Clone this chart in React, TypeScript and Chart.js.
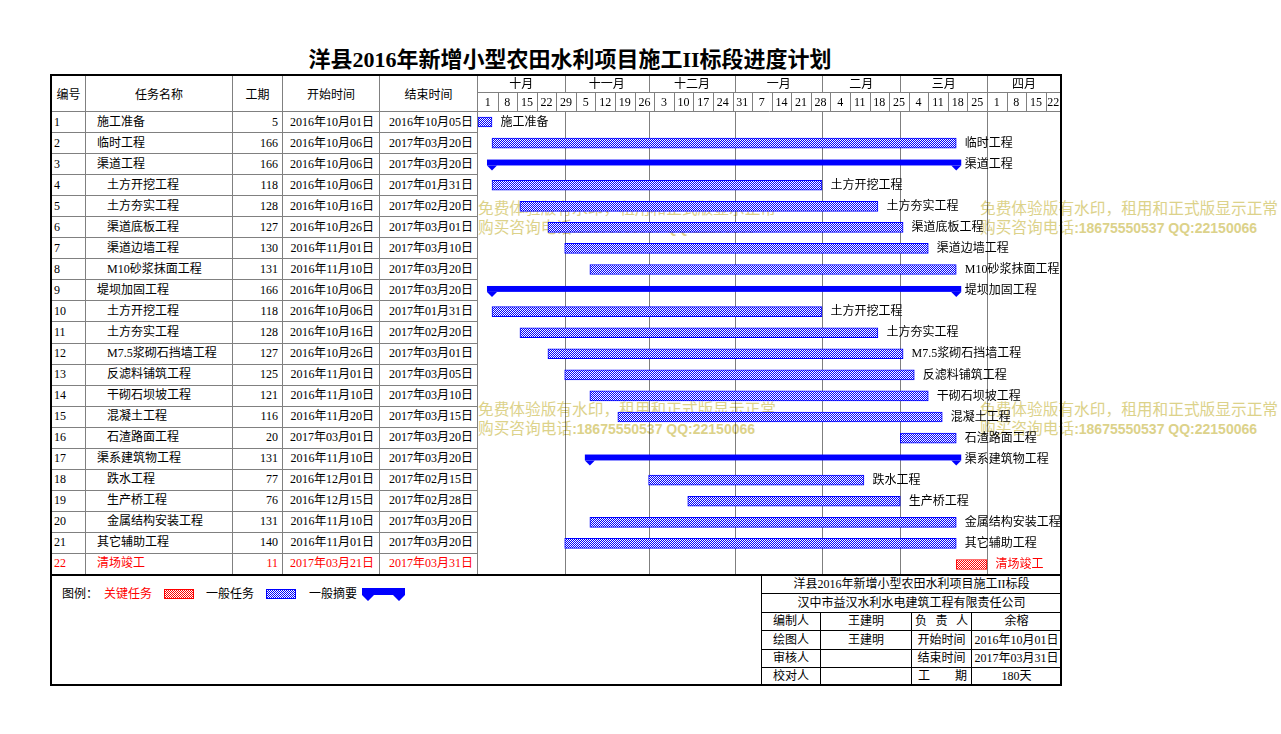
import React, { useEffect, useRef } from 'react';
import { Chart, registerables } from 'chart.js';

Chart.register(...registerables);

// ---------------- data ----------------
const taskIds = ['1','2','3','4','5','6','7','8','9','10','11','12','13','14','15','16','17','18','19','20','21','22'];
const taskNames = ['施工准备','临时工程','渠道工程','土方开挖工程','土方夯实工程','渠道底板工程','渠道边墙工程','M10砂浆抹面工程','堤坝加固工程','土方开挖工程','土方夯实工程','M7.5浆砌石挡墙工程','反滤料铺筑工程','干砌石坝坡工程','混凝土工程','石渣路面工程','渠系建筑物工程','跌水工程','生产桥工程','金属结构安装工程','其它辅助工程','清场竣工'];
const taskLevels = [1,1,1,2,2,2,2,2,1,2,2,2,2,2,2,2,1,2,2,2,1,1];
const taskTypes = ['task','task','summary','task','task','task','task','task','summary','task','task','task','task','task','task','task','summary','task','task','task','task','critical'];
const durations = [5,166,166,118,128,127,130,131,166,118,128,127,125,121,116,20,131,77,76,131,140,11];
const startDates = ['2016-10-01','2016-10-06','2016-10-06','2016-10-06','2016-10-16','2016-10-26','2016-11-01','2016-11-10','2016-10-06','2016-10-06','2016-10-16','2016-10-26','2016-11-01','2016-11-10','2016-11-20','2017-03-01','2016-11-10','2016-12-01','2016-12-15','2016-11-10','2016-11-01','2017-03-21'];
const endDates = ['2016-10-05','2017-03-20','2017-03-20','2017-01-31','2017-02-20','2017-03-01','2017-03-10','2017-03-20','2017-03-20','2017-01-31','2017-02-20','2017-03-01','2017-03-05','2017-03-10','2017-03-15','2017-03-20','2017-03-20','2017-02-15','2017-02-28','2017-03-20','2017-03-20','2017-03-31'];

const monthLabels = ['十月','十一月','十二月','一月','二月','三月','四月'];
const monthDays = [31,30,31,31,28,31,30];
const weekLabels = ['1','8','15','22','29','5','12','19','26','3','10','17','24','31','7','14','21','28','4','11','18','25','4','11','18','25','1','8','15','22'];

const titleText = '洋县2016年新增小型农田水利项目施工II标段进度计划';
const headerLabels = ['编号','任务名称','工期','开始时间','结束时间'];
const infoTitle = '洋县2016年新增小型农田水利项目施工II标段';
const infoCompany = '汉中市益汉水利水电建筑工程有限责任公司';
const infoRows = [
  ['编制人','王建明','负责人','余榕'],
  ['绘图人','王建明','开始时间','2016年10月01日'],
  ['审核人','','结束时间','2017年03月31日'],
  ['校对人','','工期','180天'],
];
const legendLabels = ['图例：','关键任务','一般任务','一般摘要'];
const watermark1 = '免费体验版有水印，租用和正式版显示正常';
const watermark2a = '购买咨询电话';
const watermark2b = ':18675550537 QQ:22150066';

// ---------------- helpers ----------------
const ORIGIN = Date.UTC(2016, 9, 1);
function dayIndex(s: string): number {
  const [y, m, d] = s.split('-').map(Number);
  return Math.round((Date.UTC(y, m - 1, d) - ORIGIN) / 86400000);
}
function fmtDate(s: string): string {
  const [y, m, d] = s.split('-');
  return `${y}年${m}月${d}日`;
}

const FONT = '"Liberation Serif", "Noto Sans CJK SC", serif';
const CANVAS_FONT = '12px "Liberation Serif", "Noto Sans CJK SC", serif';
const GRAY = '#808080';
const BLUE = '#0000ff';
const RED = '#ff0000';

const G_LEFT = 478;
const G_TOP = 75;
const G_W = 583;
const G_H = 500;
const HEAD_H = 36.5;
const PX_PER_DAY = 509 / 182;
const X_MAX = G_W / PX_PER_DAY;

const ROW_TOP = 111.5;
const ROW_H = 463 / 22;
const colX = [50, 85, 232, 282, 379, 477];

function makePattern(color: string): CanvasPattern | string {
  const c = document.createElement('canvas');
  c.width = 2; c.height = 2;
  const g = c.getContext('2d');
  if (!g) return color;
  g.fillStyle = '#ffffff';
  g.fillRect(0, 0, 2, 2);
  g.fillStyle = color;
  g.fillRect(0, 0, 1, 1);
  g.fillRect(1, 1, 1, 1);
  const p = g.createPattern(c, 'repeat');
  return p || color;
}

const ganttPlugin = {
  id: 'ganttDecor',
  beforeDatasetsDraw(chart: any) {
    const { ctx, chartArea, scales } = chart;
    const xs = scales.x;
    const W = chart.width;
    ctx.save();
    ctx.strokeStyle = GRAY;
    ctx.lineWidth = 1;
    ctx.beginPath();
    ctx.moveTo(0, 17.5); ctx.lineTo(W, 17.5);
    ctx.moveTo(0, chartArea.top); ctx.lineTo(W, chartArea.top);
    ctx.stroke();

    ctx.font = CANVAS_FONT;
    ctx.fillStyle = '#000';
    ctx.textAlign = 'center';
    ctx.textBaseline = 'middle';

    // month row
    let acc = 0;
    const boundaries: number[] = [];
    monthLabels.forEach((m, i) => {
      const s = acc;
      const e = acc + monthDays[i];
      acc = e;
      const p0 = xs.getPixelForValue(s);
      const p1 = Math.min(xs.getPixelForValue(e), W);
      if (i > 0) {
        boundaries.push(p0);
        ctx.beginPath();
        ctx.moveTo(Math.round(p0) + 0.5, 1);
        ctx.lineTo(Math.round(p0) + 0.5, 17.5);
        ctx.stroke();
      }
      ctx.fillText(m, (p0 + p1) / 2, 9.5);
    });

    // week row
    weekLabels.forEach((l, i) => {
      const s = i * 7;
      const p0 = xs.getPixelForValue(s);
      const p1 = Math.min(xs.getPixelForValue(s + 7), W);
      if (p0 >= W) return;
      if (i > 0) {
        ctx.beginPath();
        ctx.moveTo(Math.round(p0) + 0.5, 17.5);
        ctx.lineTo(Math.round(p0) + 0.5, chartArea.top);
        ctx.stroke();
      }
      ctx.fillText(l, (p0 + p1) / 2, 27.5);
    });

    // dotted month lines in body
    ctx.strokeStyle = '#000';
    ctx.setLineDash([1, 1]);
    boundaries.forEach((p) => {
      ctx.beginPath();
      ctx.moveTo(Math.round(p) + 0.5, chartArea.top + 1);
      ctx.lineTo(Math.round(p) + 0.5, chartArea.bottom);
      ctx.stroke();
    });
    ctx.restore();
  },
  afterDatasetsDraw(chart: any) {
    const { ctx } = chart;
    ctx.save();
    // summary bars
    const sumDs = chart.data.datasets[1];
    const sumMeta = chart.getDatasetMeta(1);
    ctx.fillStyle = BLUE;
    sumMeta.data.forEach((el: any, i: number) => {
      if (sumDs.data[i] == null) return;
      const { x, base, y } = el.getProps(['x', 'base', 'y'], true);
      const l = Math.min(x, base);
      const r = Math.max(x, base);
      const top = y - 4.6;
      const bot = y + 1.3;
      ctx.fillRect(l - 5, top, r - l + 10, bot - top);
      [l, r].forEach((c) => {
        ctx.beginPath();
        ctx.moveTo(c - 5, bot);
        ctx.lineTo(c + 5, bot);
        ctx.lineTo(c, bot + 5);
        ctx.closePath();
        ctx.fill();
      });
    });
    // labels
    ctx.font = CANVAS_FONT;
    ctx.textAlign = 'left';
    ctx.textBaseline = 'middle';
    chart.data.datasets.forEach((ds: any, di: number) => {
      const meta = chart.getDatasetMeta(di);
      meta.data.forEach((el: any, i: number) => {
        if (ds.data[i] == null) return;
        const { x, base, y } = el.getProps(['x', 'base', 'y'], true);
        const r = Math.max(x, base);
        ctx.fillStyle = taskTypes[i] === 'critical' ? RED : '#000';
        ctx.fillText(taskNames[i], r + 8.5, y + 0.5);
      });
    });
    ctx.restore();
  },
};

const abs = (l: number, t: number, w: number, h: number, extra: any = {}) => ({
  position: 'absolute' as const, left: l, top: t, width: w, height: h, ...extra,
});

export default function App() {
  const ref = useRef<HTMLCanvasElement>(null);

  useEffect(() => {
    if (!ref.current) return;
    const ranges = taskIds.map((_, i) => [dayIndex(startDates[i]), dayIndex(endDates[i]) + 1]);
    const taskData = ranges.map((r, i) => (taskTypes[i] === 'task' ? r : null));
    const sumData = ranges.map((r, i) => (taskTypes[i] === 'summary' ? r : null));
    const critData = ranges.map((r, i) => (taskTypes[i] === 'critical' ? r : null));
    const chart = new Chart(ref.current, {
      type: 'bar',
      data: {
        labels: taskIds,
        datasets: [
          { label: '一般任务', data: taskData as any, backgroundColor: makePattern(BLUE) as any, borderColor: BLUE, borderWidth: 1, borderSkipped: false, barThickness: 10, grouped: false } as any,
          { label: '一般摘要', data: sumData as any, backgroundColor: 'rgba(0,0,0,0)', borderWidth: 0, barThickness: 6, grouped: false } as any,
          { label: '关键任务', data: critData as any, backgroundColor: makePattern(RED) as any, borderColor: RED, borderWidth: 1, borderSkipped: false, barThickness: 10, grouped: false } as any,
        ],
      },
      options: {
        indexAxis: 'y',
        animation: false,
        responsive: true,
        maintainAspectRatio: false,
        events: [],
        layout: { padding: { top: HEAD_H, left: 0, right: 0, bottom: 0 } },
        scales: {
          x: { type: 'linear', min: 0, max: X_MAX, display: false },
          y: { type: 'category', display: false, offset: true },
        },
        plugins: { legend: { display: false }, tooltip: { enabled: false }, title: { display: false } },
      } as any,
      plugins: [ganttPlugin],
    });
    return () => chart.destroy();
  }, []);

  const cells: React.ReactNode[] = [];
  // header labels
  headerLabels.forEach((h, i) => {
    const l = i === 0 ? 52 : colX[i] + 1;
    cells.push(
      <div key={'h' + i} style={abs(l, 77, colX[i + 1] - l, 36, { lineHeight: '36px', textAlign: 'center' })}>{h}</div>
    );
  });
  // rows
  taskIds.forEach((id, i) => {
    const top = ROW_TOP + i * ROW_H;
    const color = taskTypes[i] === 'critical' ? RED : '#000';
    const base = { lineHeight: `${ROW_H}px`, color, whiteSpace: 'nowrap' as const };
    cells.push(<div key={'id' + i} style={abs(54, top, 30, ROW_H, base)}>{id}</div>);
    cells.push(<div key={'nm' + i} style={abs(colX[1] + (taskLevels[i] === 1 ? 12 : 22), top, 140, ROW_H, base)}>{taskNames[i]}</div>);
    cells.push(<div key={'du' + i} style={abs(colX[2], top, colX[3] - colX[2] - 4, ROW_H, { ...base, textAlign: 'right' })}>{durations[i]}</div>);
    cells.push(<div key={'st' + i} style={abs(colX[3], top, colX[4] - colX[3] - 5, ROW_H, { ...base, textAlign: 'right' })}>{fmtDate(startDates[i])}</div>);
    cells.push(<div key={'en' + i} style={abs(colX[4], top, colX[5] - colX[4] - 4, ROW_H, { ...base, textAlign: 'right' })}>{fmtDate(endDates[i])}</div>);
  });

  const lines: React.ReactNode[] = [];
  colX.slice(1).forEach((x, i) => {
    lines.push(<div key={'vc' + i} style={abs(x, 76, 1, 498, { background: GRAY })} />);
  });
  for (let k = 0; k < 22; k++) {
    const y = Math.floor(ROW_TOP + k * ROW_H);
    lines.push(<div key={'hr' + k} style={abs(51, y, (k === 0 ? 478 : 477) - 51, 1, { background: GRAY })} />);
  }

  // info table
  const infoTops = [575, 593, 612, 630, 649, 667, 685];
  const infoCols = [761, 820, 911, 971, 1061];
  const info: React.ReactNode[] = [];
  info.push(<div key="il" style={abs(761, 575, 1, 110, { background: '#000' })} />);
  infoTops.slice(1, 6).forEach((y, i) => {
    info.push(<div key={'ih' + i} style={abs(761, y, 300, 1, { background: '#000' })} />);
  });
  infoCols.slice(1, 4).forEach((x, i) => {
    info.push(<div key={'iv' + i} style={abs(x, 612, 1, 73, { background: '#000' })} />);
  });
  info.push(<div key="it1" style={abs(762, 575, 299, 18, { lineHeight: '19px', textAlign: 'center', whiteSpace: 'nowrap' })}>{infoTitle}</div>);
  info.push(<div key="it2" style={abs(762, 594, 299, 18, { lineHeight: '18px', textAlign: 'center', whiteSpace: 'nowrap' })}>{infoCompany}</div>);
  infoRows.forEach((row, r) => {
    const top = infoTops[r + 2] + 1;
    const h = infoTops[r + 3] - infoTops[r + 2] - 1;
    row.forEach((t, c) => {
      const l = infoCols[c] + 1;
      const w = infoCols[c + 1] - infoCols[c] - 1;
      const spread = c === 2 && (t === '负责人' || t === '工期');
      if (spread) {
        info.push(
          <div key={'ic' + r + c} style={abs(l, top, w, h, { lineHeight: `${h}px`, display: 'flex', justifyContent: 'space-between', padding: t === '工期' ? '0 4px 0 6px' : '0 3px 0 3px', boxSizing: 'border-box' })}>
            {t.split('').map((ch, k) => <span key={k}>{ch}</span>)}
          </div>
        );
      } else {
        info.push(<div key={'ic' + r + c} style={abs(l, top, w, h, { lineHeight: `${h}px`, textAlign: 'center', whiteSpace: 'nowrap' })}>{t}</div>);
      }
    });
  });

  const checker = (c: string) => `repeating-conic-gradient(${c} 0 25%, #ffffff 0 50%) 0 0 / 2px 2px`;

  const wmPos = [[478, 197.5], [980, 197.5], [478, 398.5], [980, 398.5]];
  const wmStyle = { color: '#dcd28a', fontSize: 15.7, fontFamily: '"Noto Sans CJK SC", sans-serif', whiteSpace: 'nowrap' as const, lineHeight: '19px' };

  return (
    <div style={{ position: 'absolute', left: 0, top: 0, width: 1281, height: 734, background: '#fff', overflow: 'hidden', fontFamily: FONT, fontSize: 12, color: '#000' }}>
      <div style={abs(0, 47, 1140, 26, { lineHeight: '26px', textAlign: 'center', fontSize: 22, fontWeight: 'bold', whiteSpace: 'nowrap' })}>{titleText}</div>
      {lines}
      {cells}
      {wmPos.map(([x, y], i) => (
        <div key={'wm' + i} style={abs(x, y, 320, 38, wmStyle)}>
          <div>{watermark1}</div>
          <div>{watermark2a}<span style={{ fontFamily: '"Liberation Sans", sans-serif', fontWeight: 'bold', fontSize: 14 }}>{watermark2b}</span></div>
        </div>
      ))}
      <div style={abs(G_LEFT, G_TOP, G_W, G_H)}>
        <canvas ref={ref} />
      </div>
      {/* legend */}
      <div style={abs(62, 585, 40, 18, { lineHeight: '18px', whiteSpace: 'nowrap' })}>{legendLabels[0]}</div>
      <div style={abs(104, 585, 60, 18, { lineHeight: '18px', color: RED, whiteSpace: 'nowrap' })}>{legendLabels[1]}</div>
      <div style={abs(164, 589, 30, 10, { border: `1px solid ${RED}`, boxSizing: 'border-box', background: checker(RED) })} />
      <div style={abs(206, 585, 60, 18, { lineHeight: '18px', whiteSpace: 'nowrap' })}>{legendLabels[2]}</div>
      <div style={abs(266, 589, 30, 10, { border: `1px solid ${BLUE}`, boxSizing: 'border-box', background: checker(BLUE) })} />
      <div style={abs(309, 585, 60, 18, { lineHeight: '18px', whiteSpace: 'nowrap' })}>{legendLabels[3]}</div>
      <svg style={abs(362, 588, 43, 13)} width={43} height={13} viewBox="0 0 43 13">
        <polygon fill={BLUE} points="0,0 43,0 43,7 37,13 31,7 12,7 6,13 0,7" />
      </svg>
      {info}
      {/* separators and frame */}
      <div style={abs(50, 574, 1012, 2, { background: '#000' })} />
      <div style={abs(50, 74, 1012, 612, { border: '2px solid #000', boxSizing: 'border-box', pointerEvents: 'none' })} />
    </div>
  );
}
